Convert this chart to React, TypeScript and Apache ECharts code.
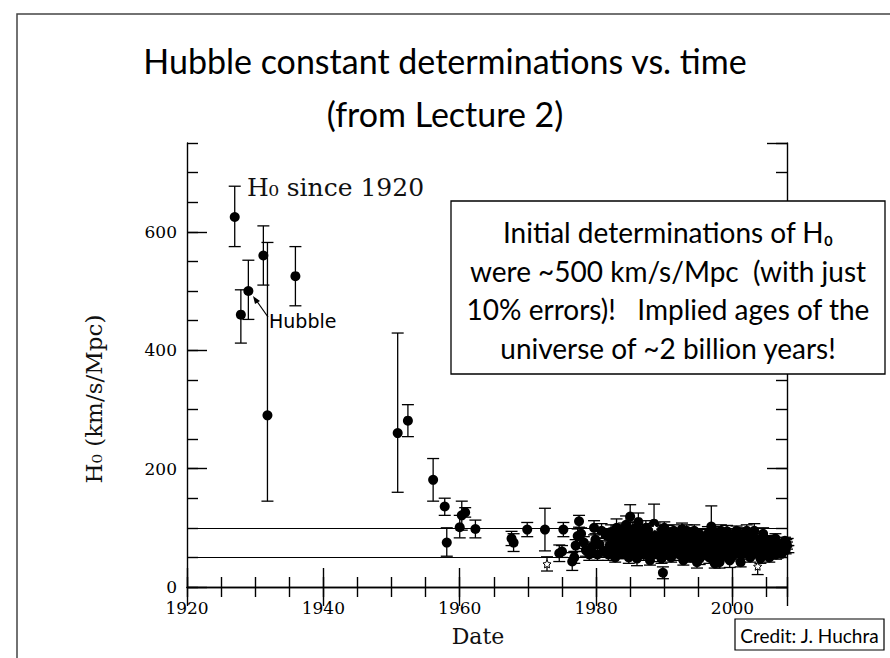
import React, { useEffect, useRef } from "react";
import * as echarts from "echarts";

// ---- Data ----
// Early determinations: year, H0, lower error, upper error
const earlyYears = [1927.0, 1927.9, 1929.0, 1931.2, 1931.8, 1935.9, 1950.9, 1952.4, 1956.1, 1957.8, 1958.1, 1960.0, 1960.3, 1960.8, 1962.3];
const earlyH0 = [625, 460, 500, 560, 290, 525, 260, 281, 181, 136, 75, 101, 121, 126, 98];
const earlyErrLo = [50, 48, 48, 50, 145, 50, 100, 27, 36, 15, 23, 18, 25, 8, 15];
const earlyErrHi = [52, 42, 52, 50, 292, 50, 169, 27, 36, 14, 25, 20, 24, 8, 15];

// 1965-1982 determinations: year, H0, symmetric error
const midYears = [1967.6, 1967.9, 1969.9, 1972.5, 1974.6, 1975.0, 1975.2, 1976.5, 1976.8, 1977.0, 1977.3, 1977.5, 1977.8, 1978.2, 1978.5, 1979.0, 1979.4, 1979.7, 1979.9, 1980.2, 1980.5, 1980.8, 1981.2, 1981.5, 1981.8];
const midH0 = [82, 75, 97, 97, 57, 60, 97, 43, 50, 70, 86, 111, 90, 75, 62, 55, 68, 100, 80, 55, 72, 95, 60, 88, 55];
const midErr = [12, 15, 12, 36, 14, 10, 12, 15, 10, 10, 12, 10, 10, 10, 10, 10, 8, 12, 10, 10, 10, 12, 8, 10, 10];

// 1982-2008 determinations: year, H0, symmetric error
const modernYears = [
  1982.0, 1982.2, 1982.4, 1982.5, 1982.8, 1982.9, 1983.0, 1983.3, 1983.5, 1983.6, 1983.9, 1984.0, 1984.2, 1984.4, 1984.5, 1984.8, 1984.9,
  1985.0, 1985.3, 1985.4, 1985.6, 1985.8, 1985.9, 1986.0, 1986.2, 1986.5, 1986.6, 1986.8, 1987.0, 1987.1, 1987.3, 1987.5, 1987.6, 1987.9,
  1988.0, 1988.2, 1988.3, 1988.5, 1988.8, 1988.9, 1989.1, 1989.3, 1989.4, 1989.6, 1989.8, 1990.0, 1990.1, 1990.4, 1990.6, 1990.7, 1990.9,
  1991.0, 1991.3, 1991.4, 1991.6, 1991.8, 1991.9, 1992.0, 1992.2, 1992.5, 1992.6, 1992.8, 1993.0, 1993.1, 1993.4, 1993.5, 1993.7, 1993.9,
  1994.0, 1994.3, 1994.4, 1994.6, 1994.8, 1994.9, 1995.0, 1995.2, 1995.5, 1995.6, 1995.8, 1996.0, 1996.1, 1996.4, 1996.6, 1996.9, 1997.0,
  1997.2, 1997.4, 1997.5, 1997.8, 1997.9, 1998.1, 1998.3, 1998.4, 1998.6, 1998.7, 1999.0, 1999.1, 1999.3, 1999.5, 1999.6, 1999.9, 2000.0,
  2000.2, 2000.4, 2000.5, 2000.8, 2000.9, 2001.1, 2001.2, 2001.4, 2001.6, 2001.7, 2002.0, 2002.1, 2002.3, 2002.5, 2002.6, 2002.9, 2003.0,
  2003.2, 2003.4, 2003.5, 2004.0, 2004.1, 2004.3, 2004.5, 2004.6, 2004.9, 2005.0, 2005.2, 2005.4, 2005.5, 2005.8, 2005.9, 2006.1, 2006.3,
  2006.4, 2006.7, 2006.8, 2007.0, 2007.2, 2007.3, 2007.6, 2007.7, 2007.9, 2008.0, 2008.2,
];
const modernH0 = [
  70, 93, 62, 75, 50, 80, 100, 85, 95, 68, 58, 65, 90, 105, 76, 50, 85,
  119, 97, 58, 82, 100, 64, 48, 110, 90, 60, 72, 55, 88, 100, 68, 80, 45,
  58, 95, 78, 107, 70, 92, 55, 66, 85, 48, 24, 100, 75, 92, 82, 60, 68,
  50, 80, 95, 66, 58, 88, 78, 55, 73, 98, 45, 52, 82, 62, 74, 90, 50,
  70, 55, 95, 80, 42, 65, 68, 48, 85, 58, 72, 80, 60, 90, 50, 102, 88,
  68, 40, 55, 78, 62, 42, 95, 65, 52, 88, 72, 85, 58, 66, 45, 80, 52,
  68, 88, 62, 75, 58, 90, 42, 55, 80, 70, 64, 95, 80, 66, 50, 72, 58,
  95, 82, 60, 70, 48, 66, 90, 78, 58, 68, 72, 50, 63, 80, 60, 68, 82,
  55, 73, 64, 62, 56, 70, 66, 78, 74, 70, 64,
];
const modernErr = [
  10, 12, 8, 10, 8, 10, 15, 10, 10, 8, 10, 8, 12, 15, 10, 10, 10,
  20, 12, 10, 10, 10, 12, 12, 15, 12, 8, 10, 10, 10, 12, 8, 10, 8,
  10, 12, 8, 33, 10, 12, 12, 8, 10, 8, 10, 10, 10, 12, 10, 10, 8,
  8, 12, 10, 10, 8, 10, 10, 10, 8, 10, 8, 8, 12, 8, 8, 10, 8,
  10, 8, 10, 10, 10, 8, 8, 10, 12, 8, 8, 10, 10, 12, 10, 35, 8,
  8, 8, 10, 10, 8, 10, 10, 8, 8, 10, 6, 10, 8, 6, 12, 10, 8,
  8, 10, 6, 8, 8, 10, 8, 8, 8, 6, 8, 10, 10, 6, 8, 8, 8,
  12, 8, 8, 6, 8, 8, 10, 8, 6, 6, 6, 8, 8, 6, 6, 6, 8,
  8, 6, 6, 6, 6, 6, 8, 6, 6, 6, 6,
];

// Further 1982-2008 determinations filling the dense band
const denseYears = [
  1982.1, 1982.6, 1983.2, 1983.8, 1984.1, 1984.6, 1985.1, 1985.5, 1986.1, 1986.4, 1986.9, 1987.2, 1987.7, 1988.1, 1988.7, 1989.0,
  1989.5, 1989.9, 1990.3, 1990.8, 1991.1, 1991.5, 1992.1, 1992.4, 1992.9, 1993.3, 1993.8, 1994.1, 1994.7, 1995.1, 1995.4, 1995.9,
  1996.3, 1996.7, 1997.1, 1997.6, 1998.0, 1998.5, 1998.9, 1999.2, 1999.7, 2000.1, 2000.6, 2001.0, 2001.5, 2001.9, 2002.4, 2002.8,
  2003.1, 2003.6, 2003.9, 2004.2, 2004.8, 2005.1, 2005.7, 2006.0, 2006.5, 2006.9, 2007.4, 2007.8, 2008.1,
];
const denseH0 = [
  84, 68, 56, 78, 98, 62, 72, 90, 78, 66, 95, 60, 92, 72, 60, 80,
  95, 62, 55, 90, 72, 85, 64, 88, 68, 95, 66, 82, 60, 90, 75, 55,
  70, 82, 60, 92, 75, 82, 60, 94, 72, 80, 95, 70, 64, 78, 56, 88,
  70, 76, 62, 58, 72, 80, 70, 76, 66, 58, 72, 62, 76,
];
const denseErr = [
  8, 8, 8, 8, 10, 8, 8, 10, 8, 8, 10, 8, 10, 8, 8, 8,
  10, 8, 8, 10, 8, 8, 8, 8, 8, 10, 8, 8, 8, 8, 8, 8,
  8, 8, 8, 10, 8, 8, 8, 10, 6, 8, 8, 6, 6, 8, 6, 8,
  6, 6, 6, 6, 6, 6, 6, 6, 6, 6, 6, 6, 6,
];

// Open-star determinations
const starYears = [1972.8, 1988.6, 2003.7];
const starH0 = [39, 100, 35];
const starErr = [12, 8, 14];

// Reference lines (km/s/Mpc)
const refLines = [100, 50];

// Axis ticks
const xMin = 1920, xMax = 2008, xMajor = 20, xMinor = 5;
const yMin = 0, yMax = 750, yMajor = 200, yMinor = 50;

const SERIF = "'DejaVu Serif', 'Liberation Serif', serif";
const SANS = "Lato, 'Open Sans', sans-serif";

const STAR_PATH =
  "path://M0,-10 L2.9,-4 L9.5,-3.1 L4.8,1.5 L5.9,8.1 L0,5 L-5.9,8.1 L-4.8,1.5 L-9.5,-3.1 L-2.9,-4 Z";

export default function App() {
  const ref = useRef<HTMLDivElement>(null);

  useEffect(() => {
    if (!ref.current) return;
    const chart = echarts.init(ref.current, null, { renderer: "svg" });

    const errData: number[][] = [];
    earlyYears.forEach((x, i) => errData.push([x, earlyH0[i], earlyErrLo[i], earlyErrHi[i]]));
    midYears.forEach((x, i) => errData.push([x, midH0[i], midErr[i], midErr[i]]));
    modernYears.forEach((x, i) => errData.push([x, modernH0[i], modernErr[i], modernErr[i]]));
    denseYears.forEach((x, i) => errData.push([x, denseH0[i], denseErr[i], denseErr[i]]));
    starYears.forEach((x, i) => errData.push([x, starH0[i], starErr[i], starErr[i]]));

    const dots: number[][] = [];
    earlyYears.forEach((x, i) => dots.push([x, earlyH0[i]]));
    midYears.forEach((x, i) => dots.push([x, midH0[i]]));
    modernYears.forEach((x, i) => dots.push([x, modernH0[i]]));
    denseYears.forEach((x, i) => dots.push([x, denseH0[i]]));

    const stars = starYears.map((x, i) => [x, starH0[i]]);

    const lineStyle = { color: "#000", width: 1.4 };
    const capStyle = { stroke: "#000", lineWidth: 1.3, fill: "none" };

    const xBase = {
      type: "value" as const,
      min: xMin,
      max: xMax,
      gridIndex: 0,
      splitLine: { show: false },
      minorTick: { show: false },
    };
    const yBase = {
      type: "value" as const,
      min: yMin,
      max: yMax,
      gridIndex: 0,
      splitLine: { show: false },
      minorTick: { show: false },
    };

    chart.setOption({
      animation: false,
      backgroundColor: "#fff",
      grid: { left: 187, right: 103, top: 143, bottom: 71, containLabel: false, outerBoundsMode: "none" },
      xAxis: [
        {
          ...xBase,
          position: "bottom",
          interval: xMajor,
          axisLine: { show: true, lineStyle },
          axisTick: { show: true, inside: true, length: 19, lineStyle },
          axisLabel: {
            color: "#000",
            fontFamily: SERIF,
            fontSize: 17,
            margin: 12,
            showMaxLabel: false,
            formatter: (v: number) => String(v),
          },
        },
        {
          ...xBase,
          position: "bottom",
          interval: xMinor,
          axisLine: { show: false },
          axisTick: { show: true, inside: true, length: 10, lineStyle },
          axisLabel: { show: false },
        },
        {
          ...xBase,
          position: "top",
          interval: xMajor,
          axisLine: { show: true, lineStyle },
          axisTick: { show: true, inside: true, length: 19, lineStyle },
          axisLabel: { show: false },
        },
        {
          ...xBase,
          position: "top",
          interval: xMinor,
          axisLine: { show: false },
          axisTick: { show: true, inside: true, length: 10, lineStyle },
          axisLabel: { show: false },
        },
      ],
      yAxis: [
        {
          ...yBase,
          position: "left",
          interval: yMajor,
          axisLine: { show: true, lineStyle },
          axisTick: { show: true, inside: true, length: 20, lineStyle },
          axisLabel: {
            color: "#000",
            fontFamily: SERIF,
            fontSize: 17,
            margin: 10,
            showMaxLabel: false,
            formatter: (v: number) => String(v),
          },
        },
        {
          ...yBase,
          position: "left",
          interval: yMinor,
          axisLine: { show: false },
          axisTick: { show: true, inside: true, length: 11, lineStyle },
          axisLabel: { show: false },
        },
        {
          ...yBase,
          position: "right",
          interval: yMajor,
          axisLine: { show: true, lineStyle },
          axisTick: { show: true, inside: true, length: 20, lineStyle },
          axisLabel: { show: false },
        },
        {
          ...yBase,
          position: "right",
          interval: yMinor,
          axisLine: { show: false },
          axisTick: { show: true, inside: true, length: 11, lineStyle },
          axisLabel: { show: false },
        },
      ],
      series: [
        {
          type: "line",
          data: [],
          xAxisIndex: 0,
          yAxisIndex: 0,
          markLine: {
            silent: true,
            symbol: ["none", "none"],
            label: { show: false },
            lineStyle: { color: "#000", width: 1.2, type: "solid" },
            data: refLines.map((v) => ({ yAxis: v })),
          },
        },
        {
          type: "custom",
          xAxisIndex: 0,
          yAxisIndex: 0,
          data: errData,
          encode: { x: 0, y: 1 },
          z: 3,
          renderItem: (params: any, api: any) => {
            const x = api.value(0);
            const y = api.value(1);
            const lo = api.value(2);
            const hi = api.value(3);
            const top = api.coord([x, y + hi]);
            const bot = api.coord([x, y - lo]);
            const w = 6;
            return {
              type: "group",
              children: [
                { type: "line", shape: { x1: top[0], y1: top[1], x2: bot[0], y2: bot[1] }, style: capStyle },
                { type: "line", shape: { x1: top[0] - w, y1: top[1], x2: top[0] + w, y2: top[1] }, style: capStyle },
                { type: "line", shape: { x1: bot[0] - w, y1: bot[1], x2: bot[0] + w, y2: bot[1] }, style: capStyle },
              ],
            };
          },
        },
        {
          type: "scatter",
          xAxisIndex: 0,
          yAxisIndex: 0,
          data: dots,
          symbol: "circle",
          symbolSize: 10,
          itemStyle: { color: "#000", opacity: 1 },
          z: 4,
        },
        {
          type: "scatter",
          xAxisIndex: 0,
          yAxisIndex: 0,
          data: stars,
          symbol: STAR_PATH,
          symbolSize: 8,
          itemStyle: { color: "#fff", borderColor: "#000", borderWidth: 1, opacity: 1 },
          z: 5,
        },
      ],
      graphic: [
        {
          type: "rect",
          silent: true,
          z: 0,
          shape: { x: 17, y: 14, width: 1000, height: 1000 },
          style: { fill: "none", stroke: "#444", lineWidth: 1.5 },
        },
        {
          type: "text",
          x: 445,
          y: 60,
          style: {
            text: "Hubble constant determinations vs. time",
            font: `34px ${SANS}`,
            fill: "#000",
            textAlign: "center",
            textVerticalAlign: "middle",
          },
        },
        {
          type: "text",
          x: 445,
          y: 113,
          style: {
            text: "(from Lecture 2)",
            font: `34px ${SANS}`,
            fill: "#000",
            textAlign: "center",
            textVerticalAlign: "middle",
          },
        },
        {
          type: "text",
          x: 247,
          y: 187,
          z: 10,
          style: {
            text: "H₀ since 1920",
            font: `25px ${SERIF}`,
            fill: "#111",
            textAlign: "left",
            textVerticalAlign: "middle",
          },
        },
        {
          type: "text",
          x: 94,
          y: 399,
          rotation: Math.PI / 2,
          style: {
            text: "H₀ (km/s/Mpc)",
            font: `23px ${SERIF}`,
            fill: "#111",
            textAlign: "center",
            textVerticalAlign: "middle",
          },
        },
        {
          type: "text",
          x: 478,
          y: 636,
          style: {
            text: "Date",
            font: `22px ${SERIF}`,
            fill: "#111",
            textAlign: "center",
            textVerticalAlign: "middle",
          },
        },
        {
          type: "text",
          x: 269,
          y: 321,
          z: 10,
          style: {
            text: "Hubble",
            font: `19px 'DejaVu Sans', sans-serif`,
            fill: "#000",
            textAlign: "left",
            textVerticalAlign: "middle",
          },
        },
        {
          type: "line",
          z: 10,
          shape: { x1: 268, y1: 317, x2: 256, y2: 300 },
          style: { stroke: "#000", lineWidth: 1.2 },
        },
        {
          type: "polygon",
          z: 10,
          shape: { points: [[253, 296], [255, 304], [260, 301]] },
          style: { fill: "#000" },
        },
        {
          type: "rect",
          z: 20,
          shape: { x: 451, y: 201, width: 434, height: 173 },
          style: { fill: "#fff", stroke: "#000", lineWidth: 1.3 },
        },
        {
          type: "text",
          x: 668,
          y: 290,
          z: 21,
          style: {
            text:
              "Initial determinations of H₀\nwere ~500 km/s/Mpc  (with just\n10% errors)!   Implied ages of the\nuniverse of ~2 billion years!",
            font: `28px ${SANS}`,
            lineHeight: 38.5,
            fill: "#000",
            textAlign: "center",
            textVerticalAlign: "middle",
          },
        },
        {
          type: "rect",
          z: 20,
          shape: { x: 735, y: 619, width: 149, height: 31 },
          style: { fill: "#fff", stroke: "#000", lineWidth: 1.2 },
        },
        {
          type: "text",
          x: 809.5,
          y: 635,
          z: 21,
          style: {
            text: "Credit: J. Huchra",
            font: `19px ${SANS}`,
            fill: "#000",
            textAlign: "center",
            textVerticalAlign: "middle",
          },
        },
      ],
    });

    return () => chart.dispose();
  }, []);

  return (
    <div
      ref={ref}
      style={{ position: "fixed", left: 0, top: 0, width: 890, height: 658, background: "#fff" }}
    />
  );
}
